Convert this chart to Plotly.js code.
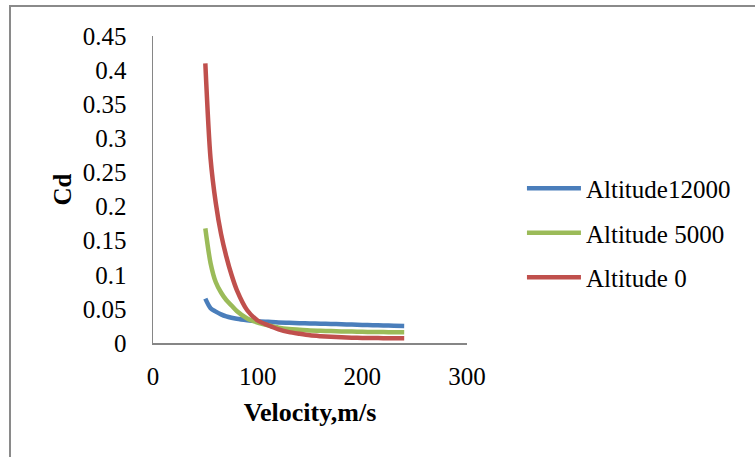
<!DOCTYPE html>
<html>
<head>
<meta charset="utf-8">
<script src="https://cdn.plot.ly/plotly-3.0.1.min.js"></script>
<style>
  html, body { margin: 0; padding: 0; background: #ffffff; }
  #frame { position: absolute; left: 9px; top: 5px; width: 800px; height: 500px; border: 2px solid #8a8a8a; box-sizing: border-box; }
  #chart { position: absolute; left: 0; top: 0; width: 755px; height: 457px; }
</style>
</head>
<body>
<div id="frame"></div>
<div id="chart"></div>
<script>
// Velocity (m/s)
const velocity = [50, 55, 60, 65, 70, 75, 80, 90, 100, 110, 120, 130, 140, 150, 160, 170, 180, 190, 200, 210, 220, 230, 240];
// Drag coefficient series
const cdAlt12000 = [0.065, 0.051, 0.046, 0.042, 0.039, 0.037, 0.0355, 0.0335, 0.032, 0.031, 0.030, 0.0295, 0.029, 0.0287, 0.0283, 0.028, 0.0275, 0.027, 0.0265, 0.026, 0.0257, 0.0253, 0.025];
const cdAlt5000  = [0.168, 0.117, 0.089, 0.074, 0.063, 0.055, 0.047, 0.036, 0.030, 0.026, 0.0225, 0.0205, 0.0195, 0.0185, 0.018, 0.0175, 0.017, 0.0167, 0.0164, 0.0162, 0.016, 0.0158, 0.0157];
const cdAlt0     = [0.41, 0.27, 0.205, 0.160, 0.127, 0.100, 0.078, 0.048, 0.033, 0.026, 0.020, 0.016, 0.0135, 0.0113, 0.0100, 0.0090, 0.0083, 0.0078, 0.0075, 0.0073, 0.0071, 0.0070, 0.0069];
const seriesNames = ["Altitude12000", "Altitude 5000", "Altitude 0"];
const seriesColors = ["#4A7EBB", "#9BBB59", "#C0504D"];
const seriesValues = [cdAlt12000, cdAlt5000, cdAlt0];
const yTickVals = [0, 0.05, 0.1, 0.15, 0.2, 0.25, 0.3, 0.35, 0.4, 0.45];
const yTickText = ["0", "0.05", "0.1", "0.15", "0.2", "0.25", "0.3", "0.35", "0.4", "0.45"];
const xTickVals = [0, 100, 200, 300];
const xTickText = ["0", "100", "200", "300"];

const FONT = "Liberation Serif, Times New Roman, serif";

const traces = seriesValues.map((vals, i) => ({
  x: velocity,
  y: vals,
  name: seriesNames[i],
  type: "scatter",
  mode: "lines",
  legendgroup: "g" + i,
  line: { color: seriesColors[i], width: 4.5, shape: "spline", smoothing: 0.8 },
  hoverinfo: "x+y+name"
}));

const layout = {
  width: 755,
  height: 457,
  paper_bgcolor: "rgba(0,0,0,0)",
  plot_bgcolor: "rgba(0,0,0,0)",
  margin: { l: 152.5, r: 288, t: 36, b: 114, pad: 0 },
  font: { family: FONT, size: 25, color: "#000000" },
  showlegend: true,
  legend: {
    x: 1.175, xanchor: "left",
    y: 0.358, yanchor: "middle",
    font: { family: FONT, size: 25, color: "#000000" },
    itemwidth: 54,
    tracegroupgap: 9,
    bgcolor: "rgba(0,0,0,0)"
  },
  xaxis: {
    range: [0, 300],
    tickvals: xTickVals,
    ticktext: xTickText,
    showgrid: false,
    zeroline: false,
    showline: true,
    linecolor: "#868686",
    linewidth: 1.5,
    ticks: "",
    ticklabelstandoff: 10,
    tickfont: { family: FONT, size: 25, color: "#000000" },
    title: { text: "<b>Velocity,m/s</b>", font: { family: FONT, size: 26, color: "#000000" }, standoff: 14 },
    fixedrange: true
  },
  yaxis: {
    range: [0, 0.45],
    tickvals: yTickVals,
    ticktext: yTickText,
    showgrid: false,
    zeroline: false,
    showline: true,
    linecolor: "#868686",
    linewidth: 1.5,
    ticks: "",
    ticklabelstandoff: 20,
    tickfont: { family: FONT, size: 25, color: "#000000" },
    title: { text: "<b>Cd</b>", font: { family: FONT, size: 25, color: "#000000" }, standoff: 4 },
    fixedrange: true
  }
};

Plotly.newPlot("chart", traces, layout, { displayModeBar: false, staticPlot: true });
</script>
</body>
</html>
